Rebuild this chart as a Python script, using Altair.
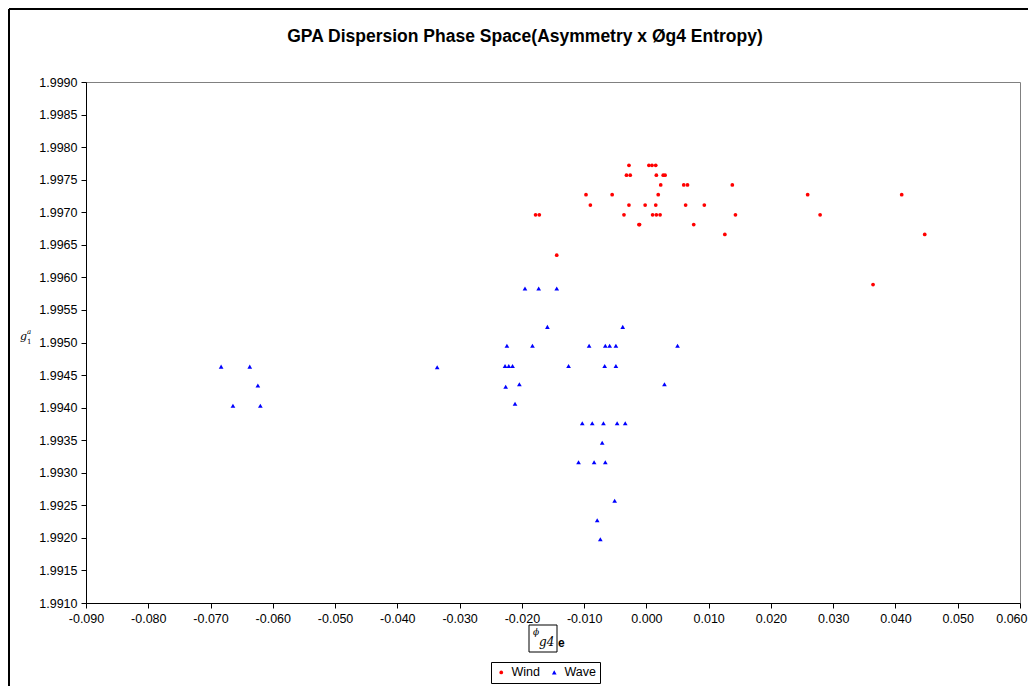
import altair as alt
import pandas as pd

# ---- data ----
wind_x = [-0.0028, 0.0004, 0.0009, 0.0015, -0.0032, -0.0026, 0.0016, 0.0027, 0.0030,
          0.0023, 0.0060, 0.0066, 0.0138, -0.0097, -0.0055, 0.0019, -0.0090, -0.0028,
          -0.0002, 0.0015, 0.0063, 0.0093, -0.0178, -0.0172, -0.0036, 0.0010, 0.0016,
          0.0022, 0.0143, -0.0012, -0.0011, 0.0076, 0.0126, -0.0144, 0.0259, 0.0410,
          0.0279, 0.0447, 0.0364]
wind_y = [1.99772, 1.99772, 1.99772, 1.99772, 1.99757, 1.99757, 1.99757, 1.99757, 1.99757,
          1.99742, 1.99742, 1.99742, 1.99742, 1.99727, 1.99727, 1.99727, 1.99711, 1.99711,
          1.99711, 1.99711, 1.99711, 1.99711, 1.99696, 1.99696, 1.99696, 1.99696, 1.99696,
          1.99696, 1.99696, 1.99681, 1.99681, 1.99681, 1.99666, 1.99634, 1.99727, 1.99727,
          1.99696, 1.99666, 1.99589]

wave_x = [-0.0683, -0.0637, -0.0624, -0.0664, -0.0620, -0.0336, -0.0195, -0.0173, -0.0144,
          -0.0159, -0.0038, -0.0224, -0.0183, -0.0092, -0.0066, -0.0059, -0.0049, 0.0050,
          -0.0227, -0.0221, -0.0215, -0.0125, -0.0067, -0.0049, -0.0226, -0.0204, 0.0029,
          -0.0211, -0.0103, -0.0087, -0.0069, -0.0047, -0.0034, -0.0071, -0.0109, -0.0084,
          -0.0066, -0.0051, -0.0079, -0.0074]
wave_y = [1.99463, 1.99463, 1.99434, 1.99403, 1.99403, 1.99462, 1.99583, 1.99583, 1.99583,
          1.99524, 1.99524, 1.99495, 1.99495, 1.99495, 1.99495, 1.99495, 1.99495, 1.99495,
          1.99464, 1.99464, 1.99464, 1.99464, 1.99464, 1.99464, 1.99432, 1.99436, 1.99436,
          1.99406, 1.99376, 1.99376, 1.99376, 1.99376, 1.99376, 1.99346, 1.99316, 1.99316,
          1.99316, 1.99257, 1.99227, 1.99198]

series_names = ["Wind", "Wave"]
series_colors = ["#FF0000", "#0000FF"]
series_shapes = ["circle", "triangle-up"]

x_ticks = [-0.09, -0.08, -0.07, -0.06, -0.05, -0.04, -0.03, -0.02, -0.01,
           0.0, 0.01, 0.02, 0.03, 0.04, 0.05, 0.06]
y_ticks = [1.9910, 1.9915, 1.9920, 1.9925, 1.9930, 1.9935, 1.9940, 1.9945, 1.9950,
           1.9955, 1.9960, 1.9965, 1.9970, 1.9975, 1.9980, 1.9985, 1.9990]

title_text = "GPA Dispersion Phase Space(Asymmetry x \u00d8g4 Entropy)"

df = pd.concat([
    pd.DataFrame({"x": wind_x, "y": wind_y, "series": "Wind"}),
    pd.DataFrame({"x": wave_x, "y": wave_y, "series": "Wave"}),
], ignore_index=True)

annot = pd.DataFrame({"k": [0]})

FONT = "Liberation Sans"

points = alt.Chart(df).mark_point(filled=True, opacity=1).encode(
    x=alt.X("x:Q",
            scale=alt.Scale(domain=[-0.09, 0.06], nice=False, zero=False),
            axis=alt.Axis(values=x_ticks, title=None,
                          labelExpr="replace(format(datum.value, '.3f'), '\u2212', '-')",
                          labelAlign={"condition": {"test": "datum.value > 0.055", "value": "right"},
                                      "value": "center"},
                          labelOffset={"condition": {"test": "datum.value > 0.055", "value": 7},
                                       "value": 0})),
    y=alt.Y("y:Q",
            scale=alt.Scale(domain=[1.9910, 1.9990], nice=False, zero=False),
            axis=alt.Axis(values=y_ticks, title=None, format=".4f", labelPadding=4)),
    color=alt.Color("series:N",
                    scale=alt.Scale(domain=series_names, range=series_colors),
                    legend=alt.Legend(title=None, orient="none", legendX=405, legendY=580,
                                      direction="horizontal", strokeColor="#000000",
                                      padding=4, symbolSize=14, labelFontSize=12.5,
                                      labelFont=FONT, columnPadding=8, labelOffset=4)),
    shape=alt.Shape("series:N",
                    scale=alt.Scale(domain=series_names, range=series_shapes)),
    size=alt.Size("series:N",
                  scale=alt.Scale(domain=series_names, range=[14, 22]), legend=None),
)

# chart title
title = alt.Chart(annot).mark_text(text=title_text, font=FONT, fontWeight="bold",
                                   fontSize=17.5, align="center", baseline="alphabetic",
                                   color="#000000").encode(
    x=alt.value(439), y=alt.value(-40))

# outer frame (left and top edges)
frame_top = alt.Chart(annot).mark_rule(color="#000000", strokeWidth=2).encode(
    x=alt.value(-77), x2=alt.value(942), y=alt.value(-73))
frame_left = alt.Chart(annot).mark_rule(color="#000000", strokeWidth=2).encode(
    x=alt.value(-77), y=alt.value(-73), y2=alt.value(610))

# x-axis title: boxed phi g4 followed by bold e
xt_box = alt.Chart(annot).mark_rect(fill=None, stroke="#000000", strokeWidth=1).encode(
    x=alt.value(443), x2=alt.value(471), y=alt.value(543), y2=alt.value(570))
xt_phi = alt.Chart(annot).mark_text(text="\u03d5", font="DejaVu Serif", fontStyle="italic",
                                    fontSize=9, align="left").encode(
    x=alt.value(447), y=alt.value(550))
xt_g4 = alt.Chart(annot).mark_text(text="g4", font="DejaVu Serif", fontStyle="italic",
                                   fontSize=12, align="left").encode(
    x=alt.value(453), y=alt.value(560))
xt_e = alt.Chart(annot).mark_text(text="e", font=FONT, fontWeight="bold",
                                  fontSize=12, align="left").encode(
    x=alt.value(472), y=alt.value(561))

# y-axis title: g with subscript 1 and superscript a
yt_g = alt.Chart(annot).mark_text(text="g", font="DejaVu Serif", fontStyle="italic",
                                  fontSize=11, align="left").encode(
    x=alt.value(-66), y=alt.value(255))
yt_sub = alt.Chart(annot).mark_text(text="1", font="DejaVu Serif",
                                    fontSize=7, align="left").encode(
    x=alt.value(-59), y=alt.value(260))
yt_sup = alt.Chart(annot).mark_text(text="a", font="DejaVu Serif", fontStyle="italic",
                                    fontSize=7, align="left").encode(
    x=alt.value(-59), y=alt.value(250))

chart = alt.layer(
    frame_top, frame_left, title, points, xt_box, xt_phi, xt_g4, xt_e, yt_g, yt_sub, yt_sup
).properties(
    width=934, height=521,
    autosize=alt.AutoSizeParams(type="none"),
    padding={"left": 78, "top": 74, "right": 8, "bottom": 84},
).configure_view(
    stroke="#808080", strokeWidth=1
).configure_axis(
    grid=False, domainColor="#000000", domainWidth=1, tickColor="#000000",
    tickSize=5, labelFont=FONT, labelFontSize=12.5, labelColor="#000000",
    labelPadding=3
).configure_axisX(
    labelPadding=4
)

chart.save("out.html", embed_options={"renderer": "svg", "actions": False})
